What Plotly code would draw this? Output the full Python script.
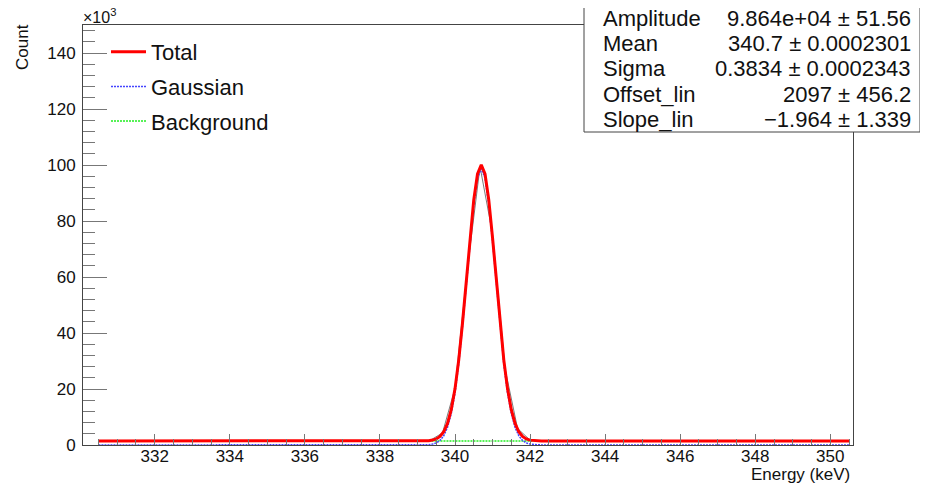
import plotly.graph_objects as go

# ---------------- data ----------------
# fit-curve sample points (keV)
fit_x = [330.5, 332.0, 334.0, 336.0, 338.0,
         338.7, 338.8, 338.9, 339.0, 339.1, 339.2, 339.3, 339.4, 339.5, 339.6,
         339.7, 339.8, 339.9, 340.0, 340.1, 340.2, 340.3, 340.4, 340.5, 340.6,
         340.7, 340.8, 340.9, 341.0, 341.1, 341.2, 341.3, 341.4, 341.5, 341.6,
         341.7, 341.8, 341.9, 342.0, 342.1, 342.2, 342.3, 342.4, 342.5, 342.6,
         342.7, 344.0, 346.0, 348.0, 350.5]

total_y = [1448, 1445, 1441, 1437, 1433,
           1432, 1432, 1433, 1436, 1447, 1478, 1557, 1745, 2166, 3040,
           4717, 7705, 12619, 20059, 30419, 43579, 58669, 74058, 87518, 96778,
           100068, 96778, 87518, 74057, 58667, 43577, 30417, 20057, 12616, 7701,
           4713, 3036, 2162, 1740, 1551, 1472, 1441, 1430, 1426, 1425,
           1424, 1421, 1418, 1414, 1409]

gauss_y = [0, 0, 0, 0, 0,
           0, 0.5, 2, 5, 16, 47, 126, 315, 736, 1610,
           3287, 6275, 11190, 18630, 28990, 42150, 57240, 72630, 86090, 95350,
           98640, 95350, 86090, 72630, 57240, 42150, 28990, 18630, 11190, 6275,
           3287, 1610, 736, 315, 126, 47, 16, 5, 2, 0.5,
           0, 0, 0, 0, 0]

bkg_x = [330.5, 340.7, 350.5]
bkg_y = [1447.9, 1427.9, 1408.6]

# histogram (60 bins, 330.5 - 350.5 keV)
hist_lo, hist_hi, n_bins = 330.5, 350.5, 60
hist_counts = [1441, 1462, 1418, 1437, 1425, 1450, 1409, 1433, 1446, 1421,
               1438, 1415, 1452, 1430, 1427, 1444, 1412, 1436, 1429, 1448,
               1420, 1434, 1417, 1439, 1426, 1431, 1620, 4300, 20300, 63200,
               99400, 75400, 27300, 5900, 1760, 1470, 1419, 1432, 1411, 1428,
               1437, 1405, 1423, 1416, 1433, 1408, 1425, 1419, 1402, 1430,
               1414, 1421, 1406, 1418, 1399, 1412, 1425, 1404, 1415, 1410]
bin_w = (hist_hi - hist_lo) / n_bins
hist_x = [hist_lo + (i + 0.5) * bin_w for i in range(n_bins)]

y_tick_vals = [0, 20000, 40000, 60000, 80000, 100000, 120000, 140000]
y_tick_text = ["0", "20", "40", "60", "80", "100", "120", "140"]

stat_labels = ["Amplitude", "Mean", "Sigma", "Offset_lin", "Slope_lin"]
stat_values = ["9.864e+04", "340.7", "0.3834", "2097", "\u22121.964"]
stat_errors = ["51.56", "0.0002301", "0.0002343", "456.2", "1.339"]

# ---------------- layout helpers ----------------
# The page has an 8px body margin; coordinates below are measured in page pixels.
OFF = 8
W, H = 928 - OFF, 489 - OFF
L, R, T, B = 83, 853, 25, 445          # frame in page pixels
def px2x(px):
    return (px - L) / (R - L)
def py2y(py):
    return (B - py) / (B - T)

FONT = "Liberation Sans, Arial, Helvetica, sans-serif"
TXT = "#111111"

fig = go.Figure()
fig.add_trace(go.Scatter(x=hist_x, y=hist_counts, mode="lines",
                         line=dict(color="#7a7a7a", width=1),
                         showlegend=False, hoverinfo="skip"))
fig.add_trace(go.Scatter(x=bkg_x, y=bkg_y, mode="lines", name="Background",
                         line=dict(color="#22ee22", width=1.5, dash="2px,1px"),
                         legendgroup="c", legendrank=3))
fig.add_trace(go.Scatter(x=fit_x, y=gauss_y, mode="lines", name="Gaussian",
                         line=dict(color="#4444ff", width=1.5, dash="2px,1px"),
                         legendgroup="b", legendrank=2))
fig.add_trace(go.Scatter(x=fit_x, y=total_y, mode="lines", name="Total",
                         line=dict(color="#ff0000", width=3),
                         legendgroup="a", legendrank=1))

axis_col = "#444444"
tick_col = "#777777"
fig.update_xaxes(range=[330.088, 350.605], tick0=330, dtick=2,
                 ticks="inside", ticklen=11, tickcolor=tick_col, tickwidth=1,
                 minor=dict(dtick=0.5, ticks="inside", ticklen=6,
                            tickcolor=tick_col, tickwidth=1),
                 showline=True, linecolor=axis_col, linewidth=1, mirror=True,
                 showgrid=False, zeroline=False, ticklabelstandoff=-4,
                 tickfont=dict(size=17, color=TXT, family=FONT))
fig.update_yaxes(range=[0, 150000], tickvals=y_tick_vals, ticktext=y_tick_text,
                 ticks="inside", ticklen=24, tickcolor=tick_col, tickwidth=1,
                 minor=dict(dtick=4000, ticks="inside", ticklen=12,
                            tickcolor=tick_col, tickwidth=1),
                 showline=True, linecolor=axis_col, linewidth=1, mirror=True,
                 showgrid=False, zeroline=False, ticklabelstandoff=3,
                 tickfont=dict(size=17, color=TXT, family=FONT))

annotations = []
annotations.append(dict(text="Energy (keV)", xref="paper", yref="paper",
                        x=px2x(852), y=py2y(474), xanchor="right", yanchor="middle",
                        showarrow=False, font=dict(size=17, color=TXT, family=FONT)))
annotations.append(dict(text="Count", xref="paper", yref="paper",
                        x=px2x(22), y=py2y(47), xanchor="center", yanchor="middle",
                        textangle=-90, showarrow=False,
                        font=dict(size=17, color=TXT, family=FONT)))
annotations.append(dict(text="\u00d710<sup>3</sup>", xref="paper", yref="paper",
                        x=px2x(81), y=py2y(28), xanchor="left", yanchor="bottom",
                        showarrow=False, font=dict(size=16, color=TXT, family=FONT)))
for i, (lab, val, err) in enumerate(zip(stat_labels, stat_values, stat_errors)):
    yc = 18 + 25.5 * i
    annotations.append(dict(text=lab, xref="paper", yref="paper",
                            x=px2x(601), y=py2y(yc), xanchor="left", yanchor="middle",
                            showarrow=False, font=dict(size=22, color=TXT, family=FONT)))
    annotations.append(dict(text=val + " \u00b1 " + err,
                            xref="paper", yref="paper",
                            x=px2x(913), y=py2y(yc), xanchor="right", yanchor="middle",
                            showarrow=False, font=dict(size=22, color=TXT, family=FONT)))

shapes = [dict(type="rect", xref="paper", yref="paper",
               x0=px2x(584), x1=px2x(920), y0=py2y(132), y1=py2y(5),
               fillcolor="white", line=dict(color="#444", width=1), layer="above")]

fig.update_layout(width=W, height=H,
                  margin=dict(l=L - OFF, r=W - (R - OFF), t=T - OFF, b=H - (B - OFF),
                              autoexpand=False),
                  paper_bgcolor="white", plot_bgcolor="white",
                  font=dict(family=FONT, color=TXT),
                  showlegend=True,
                  legend=dict(x=px2x(106), y=py2y(31), xanchor="left", yanchor="top",
                              font=dict(size=22, color=TXT, family=FONT),
                              bgcolor="rgba(0,0,0,0)", borderwidth=0,
                              tracegroupgap=3, itemwidth=35,
                              traceorder="grouped"),
                  annotations=annotations, shapes=shapes)

fig.write_html("out.html")
